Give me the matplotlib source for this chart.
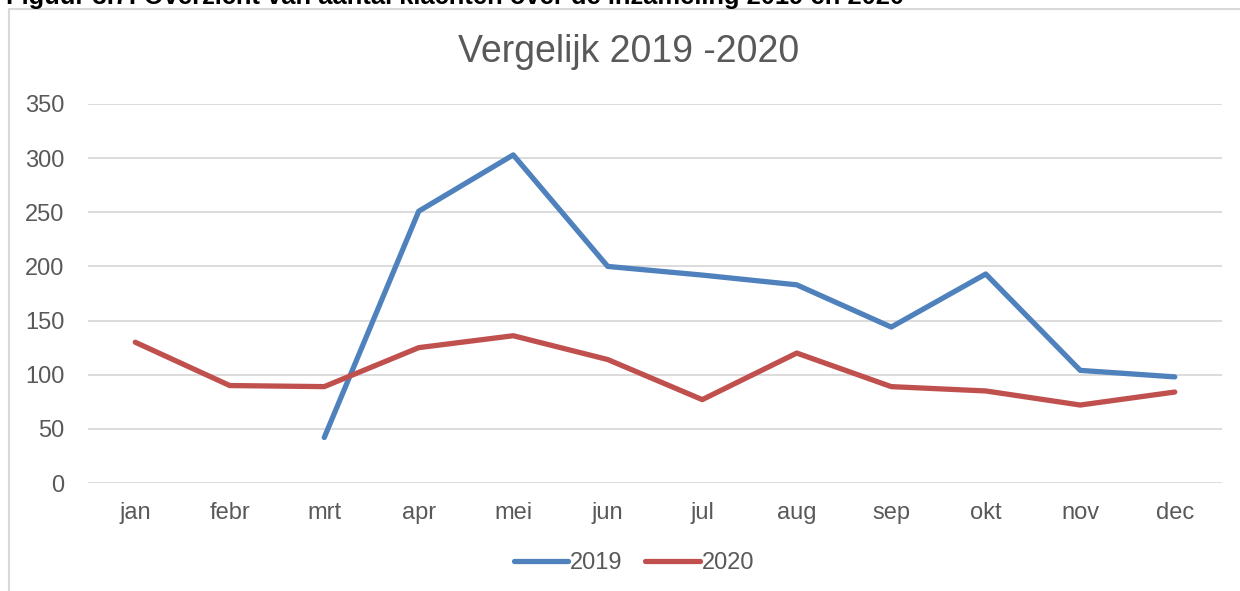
import matplotlib
matplotlib.use("Agg")
import matplotlib.pyplot as plt
from matplotlib.patches import Rectangle
import numpy as np

months = ["jan", "febr", "mrt", "apr", "mei", "jun", "jul", "aug", "sep", "okt", "nov", "dec"]
series_2019 = [np.nan, np.nan, 42, 251, 303, 200, 192, 183, 144, 193, 104, 98]
series_2020 = [130, 90, 89, 125, 136, 114, 77, 120, 89, 85, 72, 84]
y_ticks = [0, 50, 100, 150, 200, 250, 300, 350]
title = "Vergelijk 2019 -2020"
caption = "Figuur 3.7: Overzicht van aantal klachten over de inzameling 2019 en 2020"

plt.rcParams['font.family'] = ['Liberation Sans', 'DejaVu Sans']

W, H = 1240, 591
fig = plt.figure(figsize=(W / 100, H / 100), dpi=100)
fig.patch.set_facecolor("white")

# outer chart frame
fig.patches.append(Rectangle((9 / W, -0.1), 1.2, (H - 9) / H + 0.1, transform=fig.transFigure,
                             fill=False, edgecolor="#d9d9d9", linewidth=1.5, zorder=0))

# cut-off caption at the very top (as in the reference)
fig.text(6 / W, (H - 4) / H, caption, ha="left", va="baseline", fontsize=18.4,
         fontweight="bold", color="black")

ax = fig.add_axes([88 / W, 108 / H, (1222 - 88) / W, (487 - 108) / H])
x = np.arange(len(months))
ax.plot(x, series_2019, color="#4F81BD", linewidth=3.8, solid_capstyle="round",
        solid_joinstyle="round", label="2019", zorder=3)
ax.plot(x, series_2020, color="#C0504D", linewidth=3.8, solid_capstyle="round",
        solid_joinstyle="round", label="2020", zorder=3)

ax.set_xlim(-0.5, len(months) - 0.5)
ax.set_ylim(0, 350)
ax.set_yticks(y_ticks)
ax.set_xticks(x)
ax.set_xticklabels(months)
ax.grid(axis="y", color="#d9d9d9", linewidth=1.3)
ax.set_axisbelow(True)
for s in ax.spines.values():
    s.set_visible(False)
ax.tick_params(axis="both", length=0, labelsize=17, colors="#595959")
ax.tick_params(axis="y", pad=17)
ax.tick_params(axis="x", pad=13.5)

fig.text(629 / W, (H - 52) / H, title, ha="center", va="center", fontsize=27, color="#595959")

leg = fig.legend(loc="center", bbox_to_anchor=(634 / W, (H - 563) / H), ncol=2, frameon=False,
                 fontsize=17, handlelength=2.3, handletextpad=0.1, columnspacing=0.95)
for t in leg.get_texts():
    t.set_color("#595959")

fig.savefig("out.png", dpi=100, facecolor="white")
